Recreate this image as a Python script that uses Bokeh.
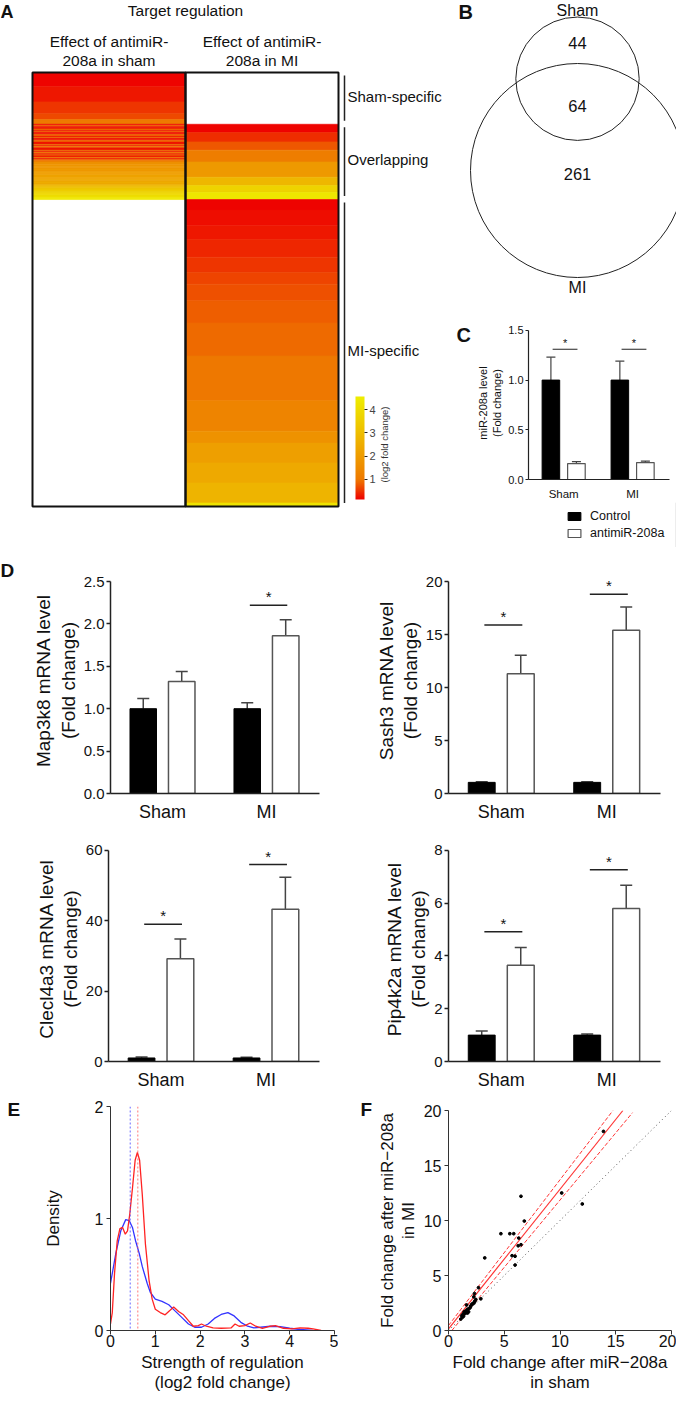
import math
from bokeh.plotting import figure
from bokeh.layouts import column, row
from bokeh.models import (Range1d, ColumnDataSource, LinearColorMapper, ColorBar, FixedTicker,
                          Whisker, TeeHead, Span, Legend, LegendItem, PrintfTickFormatter)
from bokeh.transform import transform
from bokeh.core.properties import value
from bokeh.embed import file_html
from bokeh.resources import INLINE

FONT = "Liberation Sans"

# ---------------- DATA ----------------
# Panel A: heatmap of log2 fold change (bands: value, number of rows)
sham_only_vals = [0.15, 0.3, 0.5, 0.65, 1.0]
sham_only_counts = [12, 13, 10, 5, 4]
overlap_sham_vals = [0.2, 0.9, 0.3, 0.25, 1.0, 0.3, 0.8, 0.2, 0.35, 1.1,
                     0.3, 0.9, 0.2, 0.4, 1.0, 0.3, 0.2, 0.9, 0.35, 1.2,
                     0.3, 0.25, 0.9, 0.4, 1.0, 0.3, 0.8, 0.25, 1.1, 0.35,
                     0.9, 1.0,
                     1.6, 1.7, 1.8, 1.8, 1.9, 1.8, 2.0, 1.9, 2.0, 2.1,
                     2.0, 2.2, 2.2, 2.3, 2.2, 2.4, 2.3, 2.5, 2.4, 2.6,
                     2.8, 3.0, 3.2,
                     3.4, 3.5, 3.6, 3.7, 3.8, 3.9, 4.0, 4.2, 4.4]
overlap_mi_vals = [0.15, 0.45, 0.75, 1.1, 1.9, 2.8, 3.7, 4.3]
overlap_mi_counts = [7, 8, 7, 10, 13, 7, 6, 6]
mi_only_vals = [0.15, 0.22, 0.3, 0.4, 0.5, 0.6, 0.7, 0.8, 0.88, 0.98, 1.3, 1.7, 2.1, 2.4, 2.7, 4.2]
mi_only_counts = [9, 13, 12, 15, 13, 10, 14, 19, 28, 38, 26, 10, 17, 17, 17, 3]
heat_columns = ["Effect of antimiR-\n208a in sham", "Effect of antimiR-\n208a in MI"]
heat_groups = ["Sham-specific", "Overlapping", "MI-specific"]
cbar_low, cbar_high = 0.13, 4.57
cbar_ticks = [1, 2, 3, 4]

# Panel B: Venn counts
venn_sham_only = 44
venn_both = 64
venn_mi_only = 261

# Panels C / D: bar values (Sham, MI)
groups = ["Sham", "MI"]
legend_labels = ["Control", "antimiR-208a"]
c_ctrl = [1.0, 1.0];   c_ctrl_err = [0.23, 0.19]
c_anti = [0.16, 0.17]; c_anti_err = [0.02, 0.015]
c_sig = [1.31, 1.31]

map3k8_ctrl = [1.0, 1.0];   map3k8_ctrl_err = [0.12, 0.07]
map3k8_anti = [1.32, 1.86]; map3k8_anti_err = [0.12, 0.19]
map3k8_sig = [None, 2.22]

sash3_ctrl = [1.05, 1.05];  sash3_ctrl_err = [0.05, 0.06]
sash3_anti = [11.3, 15.4];  sash3_anti_err = [1.75, 2.2]
sash3_sig = [15.9, 18.8]

clec_ctrl = [1.0, 1.0];     clec_ctrl_err = [0.3, 0.2]
clec_anti = [29.2, 43.3];   clec_anti_err = [5.6, 9.1]
clec_sig = [39.0, 56.0]

pip_ctrl = [1.0, 1.0];      pip_ctrl_err = [0.16, 0.04]
pip_anti = [3.65, 5.8];     pip_anti_err = [0.67, 0.88]
pip_sig = [4.92, 7.27]

# Panel E: density curves
blue_x = [0, 0.12, 0.23, 0.34, 0.42, 0.49, 0.56, 0.64, 0.71, 0.82, 0.89, 1.0, 1.15, 1.30, 1.44,
          1.59, 1.74, 1.88, 2.03, 2.18, 2.32, 2.47, 2.62, 2.76, 2.91, 3.06, 3.2, 3.35, 3.57,
          3.79, 4.0, 4.23, 4.52]
blue_y = [0.42, 0.69, 0.89, 0.99, 0.98, 0.92, 0.80, 0.69, 0.57, 0.42, 0.34, 0.28, 0.26, 0.23, 0.175,
          0.117, 0.058, 0.029, 0.029, 0.058, 0.108, 0.143, 0.16, 0.13, 0.073, 0.038, 0.023, 0.029,
          0.038, 0.035, 0.02, 0.009, 0.0]
red_x = [0, 0.04, 0.09, 0.15, 0.21, 0.27, 0.33, 0.38, 0.43, 0.49, 0.55, 0.60, 0.65, 0.71, 0.78,
         0.86, 0.93, 1.0, 1.11, 1.22, 1.33, 1.41, 1.52, 1.63, 1.74, 1.85, 1.96, 2.03, 2.14, 2.29,
         2.47, 2.69, 2.78, 2.87, 3.0, 3.12, 3.24, 3.39, 3.57, 3.68, 3.86, 4.05, 4.23, 4.41, 4.52, 4.7]
red_y = [0.06, 0.16, 0.51, 0.80, 0.91, 0.92, 0.86, 0.89, 1.04, 1.27, 1.52, 1.59, 1.52, 1.21, 0.77,
         0.45, 0.28, 0.19, 0.16, 0.14, 0.18, 0.21, 0.17, 0.14, 0.088, 0.038, 0.044, 0.058, 0.038, 0.023,
         0.02, 0.023, 0.058, 0.038, 0.044, 0.067, 0.038, 0.02, 0.038, 0.044, 0.02, 0.015, 0.023, 0.02,
         0.015, 0.0]
blue_median = 0.44
red_median = 0.61

# Panel F: fold change scatter
fc_sham = [1.10, 1.19, 1.31, 1.49, 1.40, 1.55, 1.70, 1.85, 2.00, 2.09, 2.21, 2.30, 2.36, 2.45, 1.70,
           1.25, 1.62, 1.95, 2.15, 1.35, 1.80, 2.69, 2.33, 2.27, 2.90, 3.25, 4.70, 5.50, 5.85, 6.30,
           6.50, 6.25, 5.70, 5.97, 5.97, 6.50, 6.80, 10.15, 12.00, 13.90]
fc_mi = [1.04, 1.34, 1.49, 1.55, 1.69, 1.78, 1.93, 1.99, 2.23, 2.38, 2.47, 2.53, 2.67, 2.82, 1.58,
         1.20, 2.32, 2.10, 2.40, 1.30, 1.70, 3.89, 3.36, 3.06, 2.88, 6.60, 8.80, 8.80, 8.80, 8.40,
         7.80, 7.70, 6.80, 6.75, 5.95, 12.20, 9.95, 12.50, 11.50, 18.10]
fit_x = [0.0, 15.64];  fit_y = [0.15, 20.0]
ci_up_x = [0.0, 14.75]; ci_up_y = [0.45, 20.0]
ci_lo_x = [0.3, 16.5];  ci_lo_y = [0.0, 19.8]
ident_x = [0, 20];      ident_y = [0, 20]

# ---------------- STYLE HELPERS ----------------
cmap_anchors = [(0.13, (0xee, 0x00, 0x00)), (0.6, (0xee, 0x44, 0x00)), (1.0, (0xee, 0x7a, 0x00)),
                (2.0, (0xee, 0x9c, 0x00)), (3.0, (0xee, 0xbe, 0x00)), (4.57, (0xee, 0xee, 0x00))]


def make_palette(n=256):
    pal = []
    for i in range(n):
        v = cbar_low + (cbar_high - cbar_low) * i / (n - 1)
        for (v0, c0), (v1, c1) in zip(cmap_anchors[:-1], cmap_anchors[1:]):
            if v0 <= v <= v1 + 1e-9:
                t = (v - v0) / (v1 - v0)
                c = tuple(int(round(a + (b - a) * t)) for a, b in zip(c0, c1))
                pal.append("#%02x%02x%02x" % c)
                break
    return pal


def expand(vals, counts):
    out = []
    for v, c in zip(vals, counts):
        out += [v] * c
    return out


def no_align(p):
    if "frame_align" in p.properties():
        p.frame_align = False
    return p


def bare_fig(w, h, xr, yr):
    p = figure(width=w, height=h, x_range=Range1d(*xr), y_range=Range1d(*yr),
               x_axis_location=None, y_axis_location=None, min_border=0,
               toolbar_location=None, output_backend="svg", outline_line_color=None)
    p.grid.visible = False
    return no_align(p)


def txt(p, x, y, s, size, align="center", baseline="middle", style="normal", angle=0, color="#111111"):
    p.text(x=[x], y=[y], text=[s], text_font=value(FONT), text_font_size=size,
           text_align=align, text_baseline=baseline, text_font_style=style, angle=angle,
           text_color=color)


def letter_fig(w, h, x, y, s, size):
    p = bare_fig(w, h, (0, w), (h, 0))
    txt(p, x, y, s, size, align="left", style="bold")
    return p


# ---------------- PANEL A ----------------
A_px_x = 153.0       # px per column
A_px_y = 434.0 / 369  # px per row
sham_col = expand(sham_only_vals, sham_only_counts) + overlap_sham_vals
mi_col = expand(overlap_mi_vals, overlap_mi_counts) + expand(mi_only_vals, mi_only_counts)
n_sham_only = sum(sham_only_counts)
n_over = len(overlap_sham_vals)
n_mi_only = sum(mi_only_counts)
n_rows = n_sham_only + n_over + n_mi_only

hx, hy, hh, hv = [], [], [], []
for col_x, start, vals in ((0.5, 0, sham_col), (1.5, n_sham_only, mi_col)):
    i = 0
    while i < len(vals):
        j = i
        while j + 1 < len(vals) and vals[j + 1] == vals[i]:
            j += 1
        n = j - i + 1
        hx.append(col_x); hy.append(start + i + n / 2); hh.append(n); hv.append(vals[i])
        i = j + 1

palette = make_palette()
mapper = LinearColorMapper(palette=palette, low=cbar_low, high=cbar_high)


def ax_(rx): return (rx - 40) / A_px_x
def ay_(ry): return (ry - 80) / A_px_y


pA = bare_fig(454, 547, (ax_(8), ax_(462)), (ay_(555), ay_(8)))
pA.rect(x="x", y="y", width=1, height="h", source=ColumnDataSource(dict(x=hx, y=hy, h=hh, v=hv)),
        fill_color=transform("v", mapper), line_color=transform("v", mapper), line_width=0.6)
pA.rect(x=[0.5, 1.5], y=[n_rows / 2] * 2, width=1, height=n_rows, fill_color=None,
        line_color="#111111", line_width=2)
starts = [0, n_sham_only, n_sham_only + n_over]
ends = [n_sham_only, n_sham_only + n_over, n_rows]
pA.segment(x0=[ax_(352)] * 3, x1=[ax_(352)] * 3, y0=[s + 2.5 for s in starts],
           y1=[e - 3 for e in ends], line_color="#222222", line_width=1.5)
for s, e, lab in zip(starts, ends, heat_groups):
    txt(pA, ax_(355), (s + e) / 2 - 2, lab, "15px", align="left")
txt(pA, 1.0, ay_(18), "Target regulation", "15.5px")
for k, lab in enumerate(heat_columns):
    l1, l2 = lab.split("\n")
    txt(pA, k + 0.5, ay_(49), l1, "15.5px")
    txt(pA, k + 0.5, ay_(68), l2, "15.5px")
txt(pA, ax_(8), ay_(19), "A", "18px", align="left", style="bold")
cb = ColorBar(color_mapper=mapper, location=(355, 48), width=9, height=103, padding=0,
              orientation="vertical", ticker=FixedTicker(ticks=cbar_ticks),
              major_label_text_font_size="11px", major_label_text_font=FONT,
              major_tick_in=0, major_tick_out=3, major_tick_line_color="#222222",
              label_standoff=2, bar_line_color=None, border_line_color=None,
              background_fill_alpha=0)
pA.add_layout(cb)
txt(pA, ax_(392), ay_(452), "(log2 fold change)", "9.5px", angle=math.pi / 2, color="#333333")

# ---------------- PANEL B (Venn) ----------------
R_mi = 1.0
r_sham = R_mi * math.sqrt((venn_sham_only + venn_both) / (venn_mi_only + venn_both))


def lens(d, r, R):
    a1 = r * r * math.acos((d * d + r * r - R * R) / (2 * d * r))
    a2 = R * R * math.acos((d * d + R * R - r * r) / (2 * d * R))
    a3 = 0.5 * math.sqrt((-d + r + R) * (d + r - R) * (d - r + R) * (d + r + R))
    return a1 + a2 - a3


target = venn_both / (venn_sham_only + venn_both) * math.pi * r_sham ** 2
lo, hi = R_mi - r_sham + 1e-6, R_mi + r_sham - 1e-6
for _ in range(60):
    mid = (lo + hi) / 2
    if lens(mid, r_sham, R_mi) > target:
        lo = mid
    else:
        hi = mid
d_venn = (lo + hi) / 2

B_px = 107.0
def bx_(rx): return (rx - 585) / B_px
def by_(ry): return (178 - ry) / B_px


pB = bare_fig(222, 312, (bx_(462), bx_(684)), (by_(320), by_(8)))
pB.circle(x=[0, 0], y=[0, d_venn], radius=[R_mi, r_sham], fill_color=None,
          line_color="#222222", line_width=1)
txt(pB, 0, by_(18), "Sham", "16px")
txt(pB, 0, (R_mi + d_venn + r_sham) / 2 - 0.03, str(venn_sham_only), "16.5px")
txt(pB, 0, (R_mi + d_venn - r_sham) / 2 - 0.04, str(venn_both), "16.5px")
txt(pB, 0, d_venn - r_sham - 0.31, str(venn_mi_only), "16.5px")
txt(pB, 0, by_(295), "MI", "16px")
txt(pB, bx_(466), by_(19), "B", "20px", align="left", style="bold")


# ---------------- BAR PANELS ----------------
def bar_panel(w, h, mbl, frame_w, mbt, mbb, head_px, xr, ymax, yticks, fmt, ylabel,
              ctrl, ctrl_err, anti, anti_err, sig, fs_tick, fs_label, fs_cat, fs_star, cap,
              lw, tick_len):
    frame_h = h - mbt - mbb
    ppu_y = (frame_h - head_px) / ymax
    p = figure(width=w, height=h, x_range=Range1d(*xr), y_range=Range1d(0, ymax + head_px / ppu_y),
               min_border_left=mbl, min_border_right=w - mbl - frame_w, min_border_top=mbt,
               min_border_bottom=mbb, toolbar_location=None, output_backend="svg",
               outline_line_color=None)
    no_align(p)
    p.grid.visible = False
    gx = [1, 2]
    off, bw = 0.185, 0.255
    xc = [g - off for g in gx]
    xa = [g + off for g in gx]
    src_c = ColumnDataSource(dict(x=xc, top=ctrl, upper=[t + e for t, e in zip(ctrl, ctrl_err)]))
    src_a = ColumnDataSource(dict(x=xa, top=anti, upper=[t + e for t, e in zip(anti, anti_err)]))
    for src in (src_c, src_a):
        p.add_layout(Whisker(source=src, base="x", lower="top", upper="upper", line_color="#444444",
                             line_width=lw, lower_head=None,
                             upper_head=TeeHead(size=cap, line_color="#444444", line_width=lw)))
    p.vbar(x="x", top="top", width=bw, source=src_c, fill_color="black", line_color="black",
           line_width=1)
    p.vbar(x="x", top="top", width=bw, source=src_a, fill_color="white", line_color="#555555",
           line_width=lw)
    for g, lv in zip(gx, sig):
        if lv is None:
            continue
        p.segment(x0=[g - 0.16], x1=[g + 0.2], y0=[lv], y1=[lv], line_color="#222222", line_width=lw)
        p.text(x=[g + 0.02], y=[lv], text=["*"], text_font=value(FONT), text_font_size=fs_star,
               text_align="center", text_baseline="bottom", text_color="#111111")
    xa_ = p.xaxis[0]
    xa_.ticker = FixedTicker(ticks=gx)
    xa_.major_label_overrides = {1: groups[0], 2: groups[1]}
    xa_.major_tick_line_color = None
    xa_.minor_tick_line_color = None
    xa_.axis_line_width = lw
    xa_.axis_line_color = "#222222"
    xa_.major_label_standoff = 2
    xa_.major_label_text_font = FONT
    xa_.major_label_text_font_size = fs_cat
    xa_.major_label_text_color = "#111111"
    ya_ = p.yaxis[0]
    ya_.ticker = FixedTicker(ticks=yticks)
    ya_.formatter = PrintfTickFormatter(format=fmt)
    ya_.bounds = (0, ymax)
    ya_.axis_line_width = lw
    ya_.axis_line_color = "#222222"
    ya_.major_tick_line_width = lw
    ya_.major_tick_line_color = "#222222"
    ya_.major_tick_out = tick_len
    ya_.major_tick_in = 0
    ya_.minor_tick_line_color = None
    ya_.major_label_standoff = 2
    ya_.major_label_text_font = FONT
    ya_.major_label_text_font_size = fs_tick
    ya_.major_label_text_color = "#111111"
    ya_.axis_label = ylabel
    ya_.axis_label_text_font = FONT
    ya_.axis_label_text_font_size = fs_label
    ya_.axis_label_text_font_style = "normal"
    ya_.axis_label_text_color = "#111111"
    ya_.axis_label_standoff = 2
    ya_.axis_label_text_line_height = 1.15
    return p


XR_D = (0.5, 2.51)
pC = bar_panel(202, 190, 48, 147, 14, 18, 4, (0.49, 2.535), 1.5, [0, 0.5, 1.0, 1.5], "%.1f",
               "miR-208a level\n(Fold change)", c_ctrl, c_ctrl_err, c_anti, c_anti_err, c_sig,
               "11px", "11px", "11.5px", "11px", 9, 1.2, 3)
LC = letter_fig(20, 190, 2, 22, "C", "20px")

# legend panel (swatch renderers sit outside the visible range)
pL = bare_fig(222, 45, (0, 1), (0, 1))
r1 = pL.vbar(x=[5], top=[1], width=0.1, fill_color="black", line_color="black")
r2 = pL.vbar(x=[5], top=[1], width=0.1, fill_color="white", line_color="#555555", line_width=1.2)
leg = Legend(items=[LegendItem(label=legend_labels[0], renderers=[r1]),
                    LegendItem(label=legend_labels[1], renderers=[r2])],
             location=(112, 7), padding=0, margin=0, spacing=3, glyph_width=16, glyph_height=10,
             label_height=14, label_standoff=8, label_text_font_size="12.5px", label_text_font=FONT,
             border_line_color=None, background_fill_alpha=0, label_text_color="#111111")
pL.add_layout(leg)

LD = letter_fig(30, 280, 0, 23, "D", "19px")
pD1 = bar_panel(308, 280, 78, 211, 20, 34, 14, XR_D, 2.5, [0, 0.5, 1.0, 1.5, 2.0, 2.5], "%.1f",
                "Map3k8 mRNA level\n(Fold change)", map3k8_ctrl, map3k8_ctrl_err, map3k8_anti,
                map3k8_anti_err, map3k8_sig, "15px", "19px", "18px", "15px", 12, 1.5, 4)
pD2 = bar_panel(338, 280, 110, 212, 20, 34, 14, XR_D, 20, [0, 5, 10, 15, 20], "%d",
                "Sash3 mRNA level\n(Fold change)", sash3_ctrl, sash3_ctrl_err, sash3_anti,
                sash3_anti_err, sash3_sig, "15px", "19px", "18px", "15px", 12, 1.5, 4)
pD3 = bar_panel(338, 265, 108, 211, 9, 30, 14, XR_D, 60, [0, 20, 40, 60], "%d",
                "Clecl4a3 mRNA level\n(Fold change)", clec_ctrl, clec_ctrl_err, clec_anti,
                clec_anti_err, clec_sig, "15px", "19px", "18px", "15px", 12, 1.5, 4)
pD4 = bar_panel(338, 265, 110, 212, 9, 30, 14, XR_D, 8, [0, 2, 4, 6, 8], "%d",
                "Pip4k2a mRNA level\n(Fold change)", pip_ctrl, pip_ctrl_err, pip_anti,
                pip_anti_err, pip_sig, "15px", "19px", "18px", "15px", 12, 1.5, 4)


# ---------------- PANELS E / F ----------------
def r_style(p, xticks, yticks, xlabel, ylabel, ylabel_standoff):
    no_align(p)
    p.grid.visible = False
    for ax in (p.xaxis[0], p.yaxis[0]):
        ax.axis_line_color = "#333333"
        ax.axis_line_width = 1
        ax.major_tick_line_color = "#333333"
        ax.major_tick_out = 4
        ax.major_tick_in = 0
        ax.minor_tick_line_color = None
        ax.major_label_text_font = FONT
        ax.major_label_text_font_size = "16px"
        ax.major_label_text_color = "#111111"
        ax.axis_label_text_font = FONT
        ax.axis_label_text_font_size = "17px"
        ax.axis_label_text_font_style = "normal"
        ax.axis_label_text_color = "#111111"
        ax.axis_label_text_line_height = 1.1
    p.xaxis[0].ticker = FixedTicker(ticks=xticks)
    p.yaxis[0].ticker = FixedTicker(ticks=yticks)
    p.xaxis[0].major_label_standoff = 0
    p.yaxis[0].major_label_standoff = 3
    p.xaxis[0].axis_label = xlabel
    p.yaxis[0].axis_label = ylabel
    p.xaxis[0].axis_label_standoff = 3
    p.yaxis[0].axis_label_standoff = ylabel_standoff


LE = letter_fig(40, 303, 7, 17, "E", "19px")
pE = figure(width=298, height=303, x_range=Range1d(0, 5), y_range=Range1d(0, 2),
            min_border_left=66, min_border_right=4, min_border_top=14, min_border_bottom=63,
            toolbar_location=None, output_backend="svg", outline_line_color=None)
r_style(pE, [0, 1, 2, 3, 4, 5], [0, 1, 2], "Strength of regulation\n(log2 fold change)", "Density", 29)
pE.add_layout(Span(location=blue_median, dimension="height", line_color="#4444ff", line_alpha=0.8,
                   line_dash="2 2", line_width=1))
pE.add_layout(Span(location=red_median, dimension="height", line_color="#ff5555", line_alpha=0.8,
                   line_dash="2 2", line_width=1))
pE.line(blue_x, blue_y, line_color="#3333ff", line_width=1.3)
pE.line(red_x, red_y, line_color="#ff2222", line_width=1.3)

LF = letter_fig(36, 303, 22, 17, "F", "19px")
pF = figure(width=302, height=303, x_range=Range1d(0, 20), y_range=Range1d(0, 20),
            min_border_left=73, min_border_right=5, min_border_top=18, min_border_bottom=63,
            toolbar_location=None, output_backend="svg", outline_line_color=None)
r_style(pF, [0, 5, 10, 15, 20], [0, 5, 10, 15, 20], "Fold change after miR\u2212208a\nin sham",
        "Fold change after miR\u2212208a\nin MI", 3)
pF.line(ident_x, ident_y, line_color="#555555", line_dash="1 3", line_width=1)
pF.line(ci_up_x, ci_up_y, line_color="#ff3333", line_dash="4 2", line_width=1)
pF.line(ci_lo_x, ci_lo_y, line_color="#ff3333", line_dash="4 2", line_width=1)
pF.line(fit_x, fit_y, line_color="#ff3333", line_width=1.2)
pF.scatter(fc_sham, fc_mi, size=2.8, color="black", marker="circle")

# ---------------- LAYOUT ----------------
right_col = column(pB, row(LC, pC, spacing=0), pL, spacing=0)
top = row(pA, right_col, spacing=0)
layout = column(top,
                row(LD, pD1, pD2, spacing=0),
                row(pD3, pD4, spacing=0),
                row(LE, pE, LF, pF, spacing=0),
                spacing=0)

open("out.html", "w").write(file_html(layout, INLINE))
